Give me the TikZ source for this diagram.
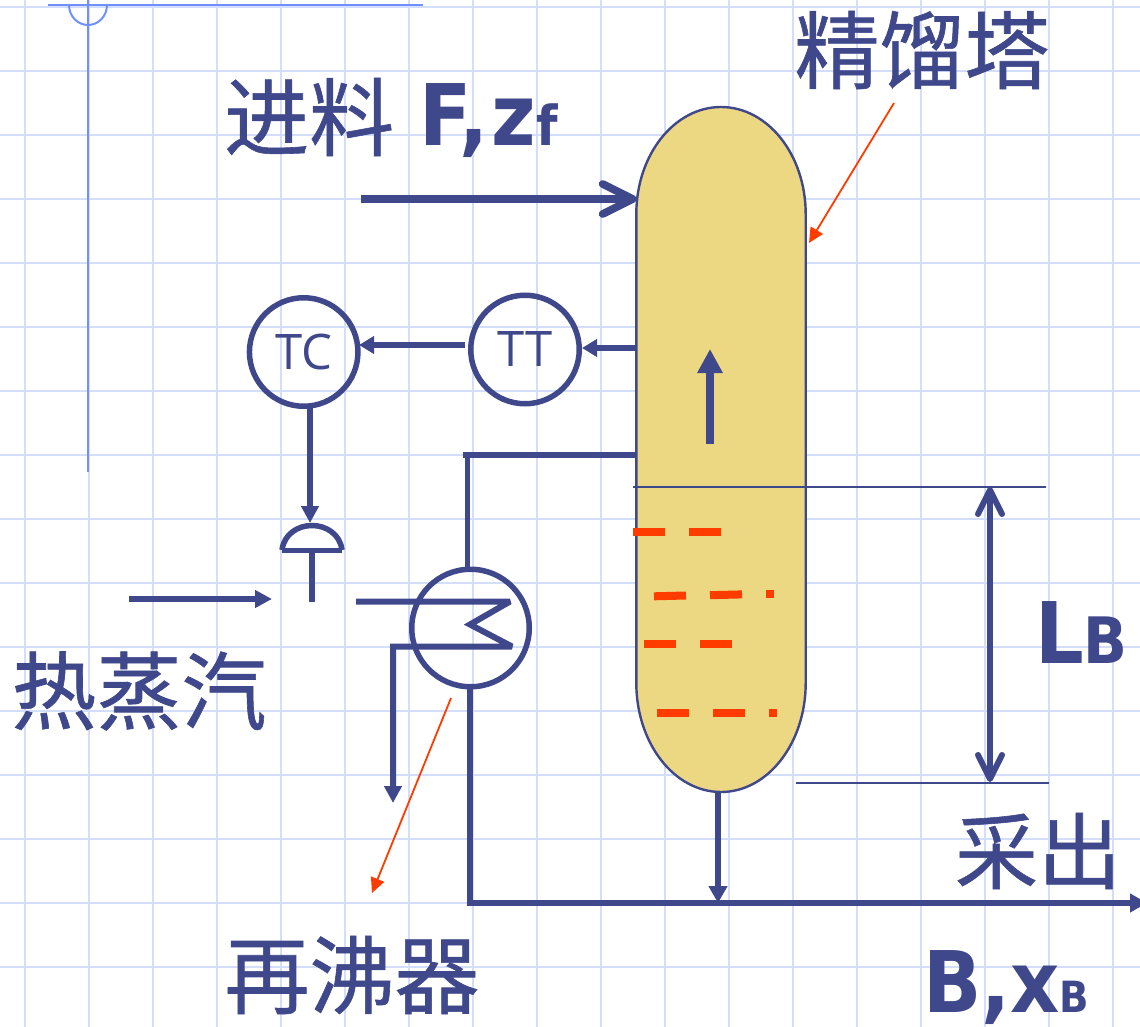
\documentclass[tikz,border=0pt]{standalone}
\usepackage{fontspec}
\setmainfont{Liberation Sans}
\newfontfamily\cjk[FakeBold=0.7]{Noto Sans CJK SC}
\newfontfamily\latb[FakeStretch=0.9]{DejaVu Sans}
\newfontfamily\instfont{Open Sans}
\usetikzlibrary{arrows.meta,calc}
\definecolor{ink}{RGB}{64,72,140}
\definecolor{gridc}{RGB}{210,222,252}
\definecolor{marg}{RGB}{112,144,255}
\definecolor{redc}{RGB}{255,60,0}
\definecolor{towerc}{RGB}{236,216,130}
\newcommand{\fs}[1]{\fontsize{#1}{#1}\selectfont}
\tikzset{
  x=1pt,y=-1pt,
  gridline/.style={gridc,line width=2.8pt},
  marginline/.style={marg,line width=2pt},
  pipe/.style={ink,line width=5.5pt},
  sighead/.style={-{Triangle[length=15pt,width=17pt]}},
  sig/.style={ink,line width=5.5pt,sighead},
  thinpipe/.style={ink,line width=2.4pt},
  instr/.style={circle,draw=ink,line width=5.5pt,minimum size=108.5pt,inner sep=0pt,text=ink,font=\instfont\fs{49}},
  cjklabel/.style={text=ink,inner sep=0pt,font=\cjk\fs{85}},
  latinlabel/.style={text=ink,inner sep=0pt,anchor=base west,font=\latb\bfseries\fs{85}},
  leader/.style={redc,line width=1.8pt,-{Triangle[length=15pt,width=14pt]}},
  dashr/.style={redc,line width=8pt},
}
\begin{document}
\begin{tikzpicture}
\useasboundingbox (0,0) rectangle (1140,1027);
\fill[white] (0,0) rectangle (1140,1027);
% grid
\foreach \gx in {25,89,...,1113} \draw[gridline] (\gx,0) -- (\gx,1027);
\foreach \gy in {7,71,...,967} \draw[gridline] (0,\gy) -- (1140,\gy);
% margin mark
\draw[marginline] (48,5) -- (423,5);
\draw[marginline] (88,0) -- (88,472);
\draw[marginline] (69,5) arc[start angle=180,end angle=360,x radius=19,y radius=-20];
% tower
\node[minimum width=169.5pt,minimum height=685pt,inner sep=0pt] (tower) at (721,449.5) {};
\draw[ink,line width=2.4pt,fill=towerc]
  (636.3,214) arc[start angle=180,end angle=0,x radius=84.7,y radius=-107]
  -- (805.7,683)
  arc[start angle=0,end angle=-180,x radius=84.7,y radius=-109]
  -- cycle;
% liquid dashes
\draw[dashr] (633,532) -- (665,532);
\draw[dashr] (689,532) -- (721,532);
\draw[dashr] (654,596.3) -- (686,595.5);
\draw[dashr] (710,595.2) -- (742,594.4);
\draw[dashr] (766,593.6) -- (774,593.6);
\draw[dashr] (644,644) -- (676,644);
\draw[dashr] (700,644) -- (732,644);
\draw[dashr] (657,713) -- (689,713);
\draw[dashr] (713,713) -- (745,713);
\draw[dashr] (769,713) -- (777,713);
% level lines
\coordinate (levelA) at (633,487);
\coordinate (levelB) at (1046,487);
\coordinate (levelC) at (796,783);
\coordinate (levelD) at (1049,783);
\draw[thinpipe] (levelA) -- (levelB);
\draw[thinpipe] (levelC) -- (levelD);
\coordinate (lbTop) at (990,487);
\coordinate (lbBot) at (990,782);
\draw[ink,line width=6pt,{Straight Barb[length=24pt,width=24pt,round]}-{Straight Barb[length=24pt,width=24pt,round]}] (lbTop) -- (lbBot);
% feed
\coordinate (feedStart) at (361,199);
\coordinate (feedEnd) at (636.5,199);
\draw[ink,line width=7.7pt,-{Straight Barb[length=30pt,width=30pt,round]}] (feedStart) -- (feedEnd);
% vapour arrow
\coordinate (upS) at (710,444);
\coordinate (upE) at (710,349);
\draw[ink,line width=8pt,-{Triangle[length=24pt,width=24pt]}] (upS) -- (upE);
% instruments
\node[instr] (TT) at (525,349.5) {TT};
\node[instr] (TC) at (303.7,352) {TC};
\coordinate (ttTap) at (637,348);
\draw[sig] (ttTap) -- (TT.east |- ttTap);
\coordinate (sigA) at (465,345);
\coordinate (sigB) at (359,345);
\draw[sig] (sigA) -- (sigB);
% valve
\node[minimum width=62pt,minimum height=27pt,inner sep=0pt] (valve) at (312,536.5) {};
\coordinate (tcOut) at (310,406);
\coordinate (valveTop) at (310,523);
\draw[sig,line width=6pt,-{Triangle[length=17pt,width=17pt]}] (tcOut) -- (valveTop);
\draw[ink,line width=5.5pt] (282,550) .. controls (284,534) and (298,525.5) .. (312,525.5)
   .. controls (326,525.5) and (340,534) .. (342,550);
\draw[pipe] (282,550.5) -- (342,550.5);
\coordinate (stemEnd) at (312,602);
\draw[pipe] (312,550) -- (stemEnd);
% steam
\coordinate (steamS) at (129,599);
\coordinate (steamE) at (272,599);
\draw[sig,line width=6pt,-{Triangle[length=17pt,width=17pt]}] (steamS) -- (steamE);
% reboiler
\node[circle,draw=ink,line width=5.5pt,minimum size=117.5pt,inner sep=0pt] (reb) at (470.5,628) {};
\coordinate (coilIn) at (356,601.5);
\coordinate (coilOut) at (393,803);
\draw[ink,line width=6pt,line join=miter,miter limit=3,-{Triangle[length=17pt,width=17pt]}] (coilIn) -- (510,601.5) -- (470,624.5) -- (512,646.5) -- (393,646.5) -- (coilOut);
% pipes
\coordinate (topTee) at (463,455);
\coordinate (towerTap) at (637,455);
\draw[pipe] (towerTap) -- (topTee);
\draw[pipe] (467.5,455) -- (467.5,568);
\coordinate (prodStart) at (470,903);
\coordinate (prodEnd) at (1147,903);
\draw[pipe] (470,688) -- (470,905.8);
\draw[ink,line width=6pt,-{Triangle[length=17pt,width=18pt]}] (prodStart) -- (prodEnd);
\coordinate (drawOff) at (718,903);
\draw[ink,line width=6pt,-{Triangle[length=17pt,width=18pt]}] (tower.south -| drawOff) -- (drawOff);
% leaders
\coordinate (ldA) at (894,103);
\coordinate (ldB) at (809,243);
\draw[leader] (ldA) -- (ldB);
\coordinate (ldC) at (451,698);
\coordinate (ldD) at (372,893);
\draw[leader] (ldC) -- (ldD);
% labels
\node[cjklabel] (tName) at (922,50) {精馏塔};
\node[cjklabel,anchor=west] (feedCn) at (224,117) {进料};
\node[latinlabel] (feedEn) at (419,146) {F,\kern3pt z\kern1pt{\fs{55}f}};
\node[cjklabel] (steamLbl) at (139,691) {热蒸汽};
\node[cjklabel] (rebLbl) at (352,975) {再沸器};
\node[cjklabel,font=\cjk\fs{83}] (drawLbl) at (1038,851) {采出};
\node[latinlabel] (lb) at (1035,663) {L{\fs{64}B}};
\node[latinlabel] (bx) at (923,1012) {B,x{\fs{43}B}};
\end{tikzpicture}
\end{document}
